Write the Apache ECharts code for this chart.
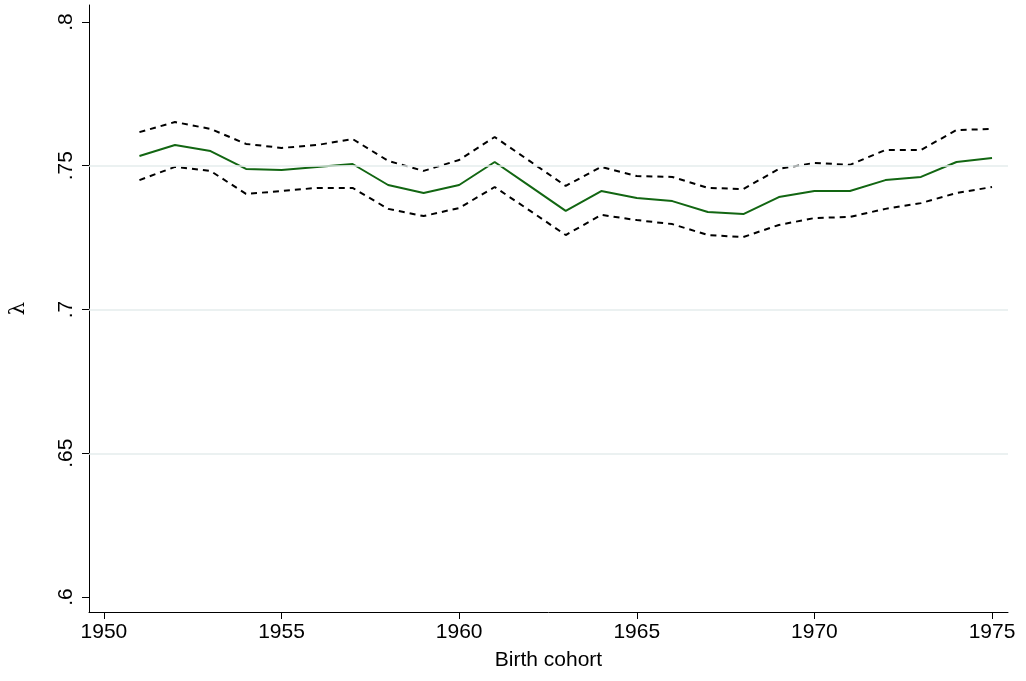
<!DOCTYPE html>
<html><head><meta charset="utf-8">
<script src="https://cdn.jsdelivr.net/npm/echarts@6/dist/echarts.min.js"></script>
<style>html,body{margin:0;padding:0;background:#fff}#c{width:1026px;height:681px}</style>
</head><body><div id="c"></div>
<script>
const years = [1951,1952,1953,1954,1955,1956,1957,1958,1959,1960,1961,1962,1963,1964,1965,1966,1967,1968,1969,1970,1971,1972,1973,1974,1975];
const lambda = [.7534,.7572,.7551,.7489,.7485,.7496,.7506,.7433,.7405,.7433,.7513,.7428,.7343,.7412,.7388,.7377,.7339,.7332,.7391,.7412,.7412,.7450,.7461,.7513,.7527];
const upper = [.7617,.7652,.7628,.7576,.7562,.7572,.7593,.7517,.7482,.7520,.7600,.7515,.7430,.7496,.7464,.7461,.7423,.7419,.7489,.7510,.7503,.7555,.7555,.7624,.7628];
const lower = [.7450,.7496,.7482,.7402,.7412,.7423,.7423,.7350,.7325,.7353,.7426,.7343,.7259,.7329,.7311,.7297,.7259,.7252,.7294,.7318,.7322,.7350,.7370,.7405,.7426];
const xTicks = [1950,1955,1960,1965,1970,1975];
const yTicks = [.6,.65,.7,.75,.8];
const gridVals = [.65,.7,.75];
const pair = a => years.map((y,i)=>[y,a[i]]);
const font = 'Liberation Sans, Arial, sans-serif';
const chart = echarts.init(document.getElementById('c'));
chart.setOption({
  animation:false,
  grid:{left:84,right:18,top:5,bottom:69},
  xAxis:{type:'value',min:1949.58,max:1975.45,
    name:'Birth cohort',nameLocation:'middle',nameGap:38,
    nameTextStyle:{color:'#000',fontSize:21,fontFamily:font},
    axisLine:{lineStyle:{color:'#000',width:1}},
    axisTick:{customValues:xTicks,length:7,lineStyle:{color:'#000'}},
    axisLabel:{customValues:xTicks,color:'#000',fontSize:21,fontFamily:font,margin:10,formatter:v=>String(Math.round(v))},
    splitLine:{show:false}},
  yAxis:{type:'value',min:0.5948,max:0.8059,
    name:'λ',nameLocation:'middle',nameGap:60,nameRotate:90,
    nameTextStyle:{color:'#000',fontSize:21,fontFamily:'DejaVu Serif, serif'},
    axisLine:{show:true,lineStyle:{color:'#000',width:1}},
    axisTick:{show:true,customValues:yTicks,length:7,lineStyle:{color:'#000'}},
    axisLabel:{customValues:yTicks,color:'#000',fontSize:21,fontFamily:font,rotate:90,margin:12,
      formatter:v=>String(+v.toFixed(2)).replace(/^0/,'')},
    splitLine:{show:false}},
  series:[
    {type:'line',data:pair(lambda),symbol:'none',lineStyle:{color:'#126612',width:2},z:3,
     markLine:{silent:true,symbol:'none',label:{show:false},lineStyle:{color:'#e4eded',type:'solid',width:1.5},
       data:gridVals.map(v=>({yAxis:v}))}},
    {type:'line',data:pair(upper),symbol:'none',lineStyle:{color:'#000',width:2,type:[6,5]},z:2},
    {type:'line',data:pair(lower),symbol:'none',lineStyle:{color:'#000',width:2,type:[6,5]},z:2}
  ]
});
</script></body></html>
